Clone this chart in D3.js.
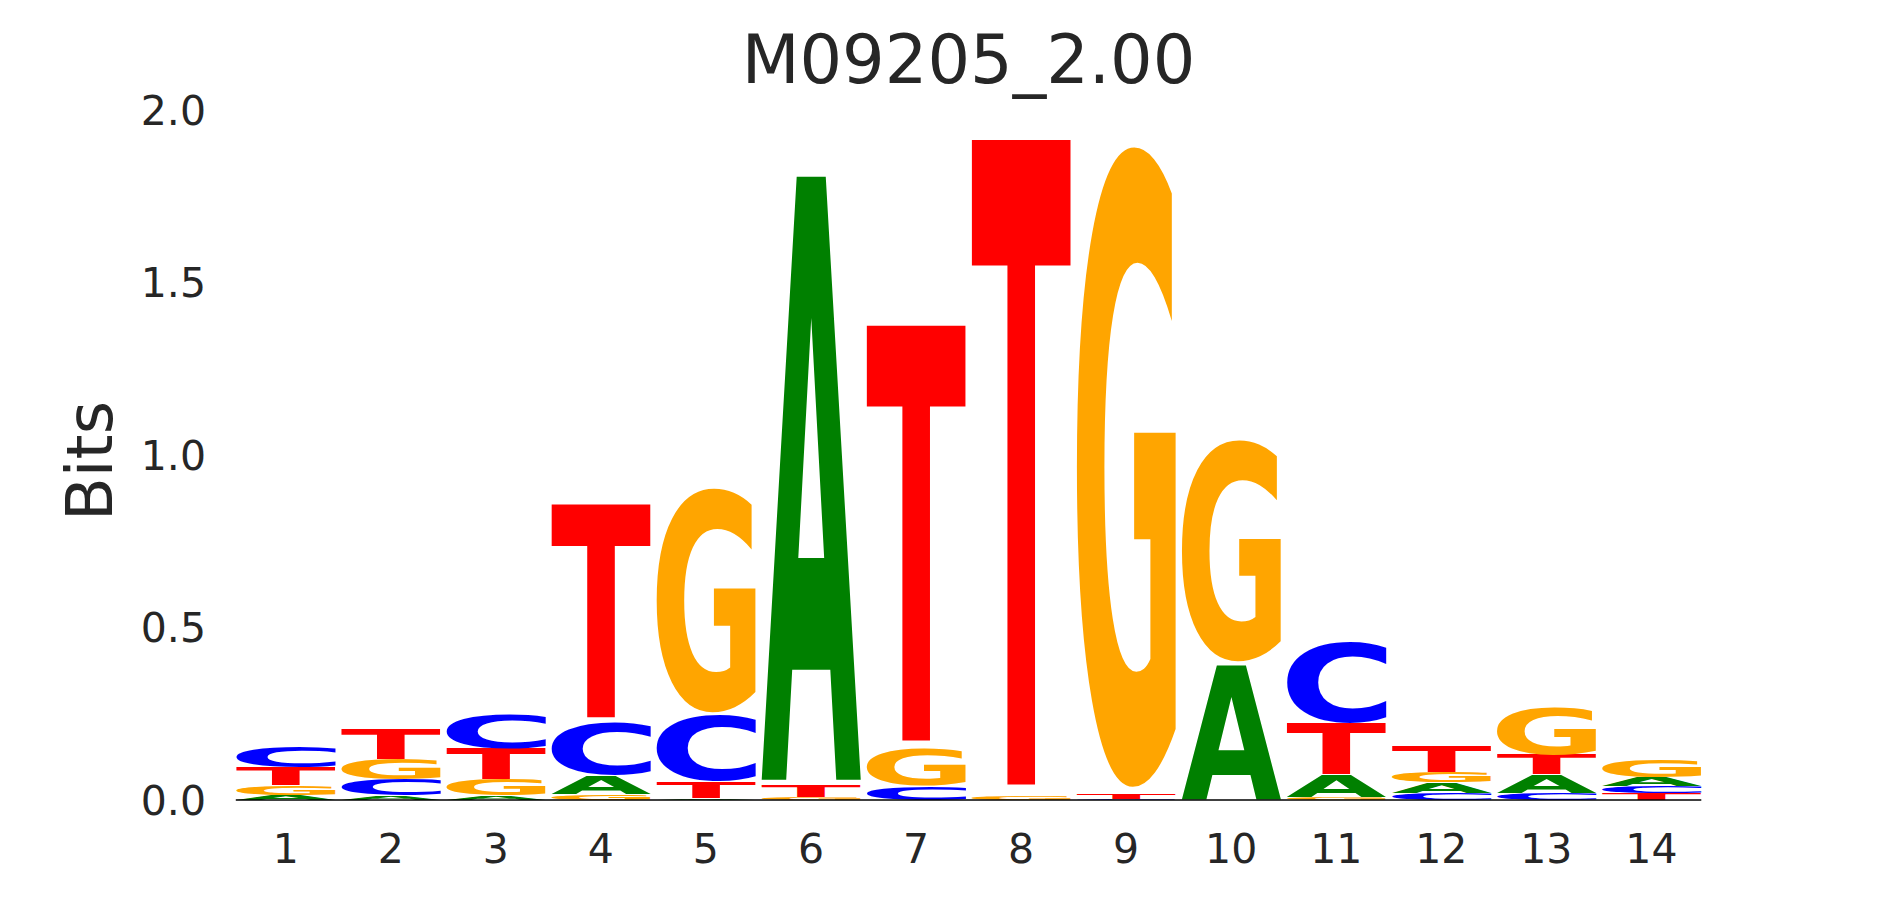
<!DOCTYPE html>
<html><head><meta charset="utf-8">
<script src="https://cdn.jsdelivr.net/npm/d3@7"></script>
<style>body{margin:0;background:#fff}</style>
</head><body>
<svg id="chart" width="1890" height="900"></svg>
<script>
// ---- data ----
const positions = [1,2,3,4,5,6,7,8,9,10,11,12,13,14];
const bitsA = [0.015,0.012,0.012,0.054,0.005,1.786,0.000,0.000,0.000,0.395,0.065,0.029,0.052,0.026];
const bitsC = [0.061,0.046,0.098,0.158,0.195,0.000,0.040,0.000,0.003,0.000,0.241,0.021,0.021,0.020];
const bitsG = [0.027,0.058,0.046,0.017,0.664,0.008,0.112,0.013,1.900,0.656,0.007,0.031,0.140,0.051];
const bitsT = [0.052,0.089,0.091,0.635,0.047,0.033,1.237,1.922,0.014,0.000,0.149,0.076,0.056,0.019];
const yTicks = [0, 0.5, 1.0, 1.5, 2.0];
const yTickLabels = ["0.0","0.5","1.0","1.5","2.0"];
const xTickLabels = ["1","2","3","4","5","6","7","8","9","10","11","12","13","14"];
const title = "M09205_2.00";
const yLabel = "Bits";
const letterColors = {A:"#008000", C:"#0000ff", G:"#ffa500", T:"#ff0000"};

// ---- layout ----
const svg = d3.select("#chart");
const x = d3.scaleLinear().domain([1,14]).range([285.7, 1651.4]);
const y = d3.scaleLinear().domain([0,2]).range([800, 110]);
const step = x(2) - x(1);
const glyphW = 0.95 * step;
const vpad = 0.02;
const textColor = "#262626";

// measure tight glyph bounds
const cv = document.createElement("canvas");
const ctx = cv.getContext("2d");
const FS = 200;
const fontFamily = "'DejaVu Sans'";
ctx.font = `bold ${FS}px ${fontFamily}`;
ctx.textAlign = "left";
ctx.textBaseline = "alphabetic";
const metrics = {};
["A","C","G","T"].forEach(l => {
  const m = ctx.measureText(l);
  metrics[l] = {L: m.actualBoundingBoxLeft, R: m.actualBoundingBoxRight,
                A: m.actualBoundingBoxAscent, D: m.actualBoundingBoxDescent};
});

// build stacks
const stacks = positions.map((p, i) => {
  const items = [
    {l:"A", h:bitsA[i]}, {l:"C", h:bitsC[i]}, {l:"G", h:bitsG[i]}, {l:"T", h:bitsT[i]}
  ].filter(d => d.h > 0).sort((a,b) => a.h - b.h);
  let cum = 0;
  items.forEach(d => { d.y0 = cum; cum += d.h; d.y1 = cum; d.p = p; });
  return items;
});

const gLetters = svg.append("g");
stacks.flat().forEach(d => {
  const m = metrics[d.l];
  const w = m.L + m.R, h = m.A + m.D;
  const boxTop = y(d.y1), boxBot = y(d.y0);
  const boxH = boxBot - boxTop;
  const pad = boxH * vpad / 2;
  const bx = x(d.p) - glyphW/2;
  const by = boxTop + pad;
  const bh = boxH - 2*pad;
  gLetters.append("text")
    .attr("x", 0).attr("y", 0)
    .attr("font-family", fontFamily)
    .attr("font-weight", "bold")
    .attr("font-size", FS)
    .attr("fill", letterColors[d.l])
    .attr("transform", `translate(${bx},${by}) scale(${glyphW/w},${bh/h}) translate(${m.L},${m.A})`)
    .text(d.l);
});

// baseline
svg.append("line")
  .attr("x1", x(1) - glyphW/2).attr("x2", x(14) + glyphW/2)
  .attr("y1", y(0)).attr("y2", y(0))
  .attr("stroke", "black").attr("stroke-width", 1.5);

// y tick labels
svg.append("g").selectAll("text").data(yTicks).join("text")
  .attr("x", 206).attr("y", d => y(d) + 14.5)
  .attr("text-anchor", "end")
  .attr("font-family", fontFamily).attr("font-size", 41)
  .attr("fill", textColor)
  .text((d,i) => yTickLabels[i]);

// x tick labels
svg.append("g").selectAll("text").data(positions).join("text")
  .attr("x", d => x(d)).attr("y", 863)
  .attr("text-anchor", "middle")
  .attr("font-family", fontFamily).attr("font-size", 41)
  .attr("fill", textColor)
  .text((d,i) => xTickLabels[i]);

// y label
svg.append("text")
  .attr("transform", "translate(112,461) rotate(-90)")
  .attr("text-anchor", "middle")
  .attr("font-family", fontFamily).attr("font-size", 64)
  .attr("fill", textColor)
  .text(yLabel);

// title
svg.append("text")
  .attr("x", 968.5).attr("y", 83)
  .attr("text-anchor", "middle")
  .attr("font-family", fontFamily).attr("font-size", 67)
  .attr("fill", textColor)
  .text(title);
</script>
</body></html>
